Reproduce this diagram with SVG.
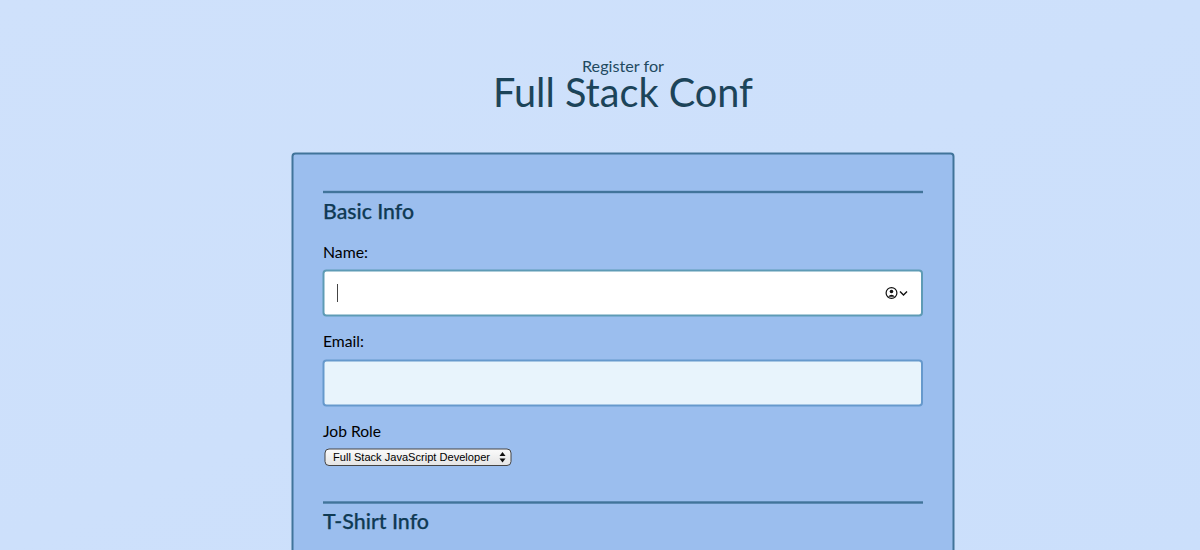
<svg xmlns="http://www.w3.org/2000/svg" width="1200" height="550" viewBox="0 0 1200 550">
<style>
.n{font-family:"Lato","Noto Sans","Liberation Sans",sans-serif}
.h{fill:#0f3a54;font-weight:500;font-size:21px;stroke:#0f3a54;stroke-width:.25px}
.l{fill:#000;font-size:16px}
.rule{fill:#41749a}
.inp{stroke-width:2}
</style>
<defs>
<linearGradient id="bg" x1="0" y1="0" x2="1" y2="1"><stop offset="0" stop-color="#cfe1fb"/><stop offset="1" stop-color="#cbdffb"/></linearGradient>
<linearGradient id="sel" x1="0" y1="0" x2="0" y2="1"><stop offset="0" stop-color="#fbfbfb"/><stop offset="1" stop-color="#e4e4e4"/></linearGradient>
</defs>
<rect width="1200" height="550" fill="url(#bg)"/>
<g id="title">
<text class="n" x="623" y="72" font-size="16" fill="#1f4a60" text-anchor="middle" textLength="82" lengthAdjust="spacingAndGlyphs">Register for</text>
<text class="n" x="623" y="107" font-size="41" fill="#1c4459" text-anchor="middle" textLength="260" lengthAdjust="spacingAndGlyphs">Full Stack Conf</text>
</g>
<g id="form">
<rect x="292.500" y="153.500" width="661" height="410" rx="3" fill="#9bbeee" stroke="#41749a" stroke-width="2"/>
</g>
<g id="basic-info">
<rect class="rule" x="323" y="190.800" width="600" height="2.400"/>
<text class="n h" x="323" y="219" textLength="91" lengthAdjust="spacingAndGlyphs">Basic Info</text>
</g>
<g id="name-field">
<text class="n l" x="323" y="257.500" textLength="45" lengthAdjust="spacingAndGlyphs">Name:</text>
<rect class="inp" x="323.500" y="270.500" width="598.500" height="45" rx="3" fill="#fff" stroke="#5e9bb5"/>
<rect x="337" y="284" width="1" height="18" fill="#444"/>
<g id="name-icon" fill="none" stroke="#111">
<circle cx="891.500" cy="293" r="5.400" stroke-width="1.200"/>
<circle cx="891.500" cy="291.500" r="1.800" fill="#111" stroke="none"/>
<path d="M888 296.800 Q891.500 292.600 895 296.800Z" fill="#111" stroke="none"/>
<path d="M900 291.500 L903.500 295 L907 291.500" stroke-width="1.400"/>
</g>
</g>
<g id="email-field">
<text class="n l" x="323" y="347" textLength="41" lengthAdjust="spacingAndGlyphs">Email:</text>
<rect class="inp" x="323.500" y="360.500" width="598.500" height="45" rx="3" fill="#e8f4fc" stroke="#6699cc"/>
</g>
<g id="job-role">
<text class="n l" x="323" y="436.500" textLength="58" lengthAdjust="spacingAndGlyphs">Job Role</text>
<rect x="325" y="449" width="186" height="16.500" rx="4" fill="url(#sel)" stroke="#444" stroke-width="1"/>
<text x="333" y="461" font-family="Liberation Sans,Arial,sans-serif" font-size="11" fill="#000" textLength="157" lengthAdjust="spacingAndGlyphs">Full Stack JavaScript Developer</text>
<path d="M499.500 456 L502.500 452 L505.500 456Z M499.500 458.500 L502.500 462.500 L505.500 458.500Z" fill="#111"/>
</g>
<g id="tshirt-info">
<rect class="rule" x="323" y="501.300" width="600" height="2.400"/>
<text class="n h" x="323" y="529" textLength="106" lengthAdjust="spacingAndGlyphs">T-Shirt Info</text>
</g>
<g id="connectors"/>
</svg>
